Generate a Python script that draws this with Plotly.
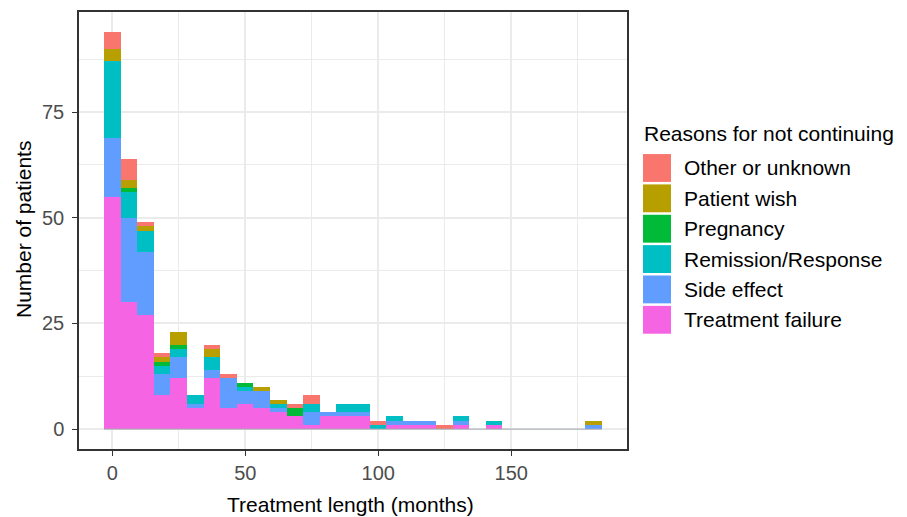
import plotly.graph_objects as go

# ---- data (stacked histogram, 30 bins) ----
bin_start = 0.0
bin_width = 6.24
n_bins = 30
bin_centers = [bin_start + i * bin_width for i in range(n_bins)]

categories = ["Other or unknown", "Patient wish", "Pregnancy",
              "Remission/Response", "Side effect", "Treatment failure"]
colors = ["#F8766D", "#B79F00", "#00BA38", "#00BFC4", "#619CFF", "#F564E3"]

other_unknown = [4, 5, 1, 1, 0, 0, 1, 1, 0, 0, 0, 1, 2, 0, 0, 0, 1, 0, 0, 0, 1, 0, 0, 0, 0, 0, 0, 0, 0, 0]
patient_wish = [3, 2, 1, 1, 3, 0, 2, 0, 0, 1, 1, 0, 0, 0, 0, 0, 0, 0, 0, 0, 0, 0, 0, 0, 0, 0, 0, 0, 0, 1]
pregnancy = [0, 1, 0, 1, 1, 0, 0, 0, 1, 0, 0, 2, 0, 0, 0, 0, 0, 0, 0, 0, 0, 0, 0, 0, 0, 0, 0, 0, 0, 0]
remission = [18, 6, 5, 2, 2, 2, 3, 0, 1, 0, 1, 0, 2, 0, 2, 2, 1, 1, 0, 0, 0, 1, 0, 1, 0, 0, 0, 0, 0, 0]
side_effect = [14, 20, 15, 5, 5, 1, 2, 7, 3, 4, 1, 0, 3, 1, 1, 1, 0, 1, 1, 1, 0, 1, 0, 0, 0, 0, 0, 0, 0, 1]
treatment_failure = [55, 30, 27, 8, 12, 5, 12, 5, 6, 5, 4, 3, 1, 3, 3, 3, 0, 1, 1, 1, 0, 1, 0, 1, 0, 0, 0, 0, 0, 0]

series = [other_unknown, patient_wish, pregnancy, remission, side_effect, treatment_failure]

x_ticks = [0, 50, 100, 150]
y_ticks = [0, 25, 50, 75]

FONT = "Liberation Sans, Arial, Helvetica, sans-serif"

fig = go.Figure()

# baseline of zero-height bins (ggplot draws a faint line)
fig.add_trace(go.Scatter(
    x=[bin_centers[0] - bin_width / 2, bin_centers[-1] + bin_width / 2], y=[0, 0],
    mode="lines", line=dict(color="#A3A8B0", width=1), showlegend=False, hoverinfo="skip"))

# stack from bottom: Treatment failure ... Other
for name, vals, col in reversed(list(zip(categories, series, colors))):
    fig.add_trace(go.Bar(
        x=bin_centers, y=vals, width=[bin_width] * n_bins, name=name,
        marker=dict(color=col, line=dict(width=0)), showlegend=False))

# page body has an 8px margin; work in window pixels and shift
OFF = 8
FIG_W, FIG_H = 907 - OFF, 517 - OFF
L, R, T, B = 79 - OFF, 627 - OFF, 10 - OFF, 449 - OFF
W, H = R - L, B - T
def px(x):
    return (x - OFF - L) / W
def py(y):
    return (B - (y - OFF)) / H

annotations = [
    dict(text="Reasons for not continuing", x=px(642), y=py(132), xref="paper", yref="paper",
         xanchor="left", yanchor="middle", showarrow=False,
         font=dict(family=FONT, size=21, color="black")),
    dict(text="Number of patients", x=px(23), y=py(229), xref="paper", yref="paper",
         xanchor="center", yanchor="middle", textangle=-90, showarrow=False,
         font=dict(family=FONT, size=21, color="black")),
    dict(text="Treatment length (months)", x=px(350), y=py(505), xref="paper", yref="paper",
         xanchor="center", yanchor="middle", showarrow=False,
         font=dict(family=FONT, size=21, color="black")),
]
shapes = []
for i, (name, col) in enumerate(zip(categories, colors)):
    top = 152.7 + 30.5 * i
    shapes.append(dict(type="rect", xref="paper", yref="paper",
                       x0=px(643), x1=px(671), y0=py(top + 28), y1=py(top),
                       fillcolor=col, line=dict(width=0)))
    annotations.append(dict(text=name, x=px(682), y=py(top + 14), xref="paper", yref="paper",
                            xanchor="left", yanchor="middle", showarrow=False,
                            font=dict(family=FONT, size=21, color="black")))

fig.update_layout(
    width=FIG_W, height=FIG_H,
    margin=dict(l=L, r=FIG_W - R, t=T, b=FIG_H - B),
    paper_bgcolor="white", plot_bgcolor="white",
    barmode="stack", bargap=0,
    font=dict(family=FONT, size=20, color="#4D4D4D"),
    annotations=annotations, shapes=shapes,
    showlegend=False,
)
fig.update_xaxes(
    range=[-12.5, 193.5], tickvals=x_ticks, ticks="outside", ticklen=5, tickwidth=1.2,
    tickcolor="#333333", tickfont=dict(family=FONT, size=20, color="#4D4D4D"),
    showline=True, linecolor="#333333", linewidth=1.5, mirror=True,
    showgrid=True, gridcolor="#EBEBEB", gridwidth=1.6, zeroline=False,
    minor=dict(tickvals=[25, 75, 125, 175], showgrid=True, gridcolor="#EBEBEB", gridwidth=0.8, ticks=""),
)
fig.update_yaxes(
    range=[-4.7, 98.7], tickvals=y_ticks, ticks="outside", ticklen=5, tickwidth=1.2,
    tickcolor="#333333", tickfont=dict(family=FONT, size=20, color="#4D4D4D"),
    ticklabelstandoff=4,
    showline=True, linecolor="#333333", linewidth=1.5, mirror=True,
    showgrid=True, gridcolor="#EBEBEB", gridwidth=1.6, zeroline=False,
    minor=dict(tickvals=[12.5, 37.5, 62.5, 87.5], showgrid=True, gridcolor="#EBEBEB", gridwidth=0.8, ticks=""),
)

fig.write_html("out.html")
